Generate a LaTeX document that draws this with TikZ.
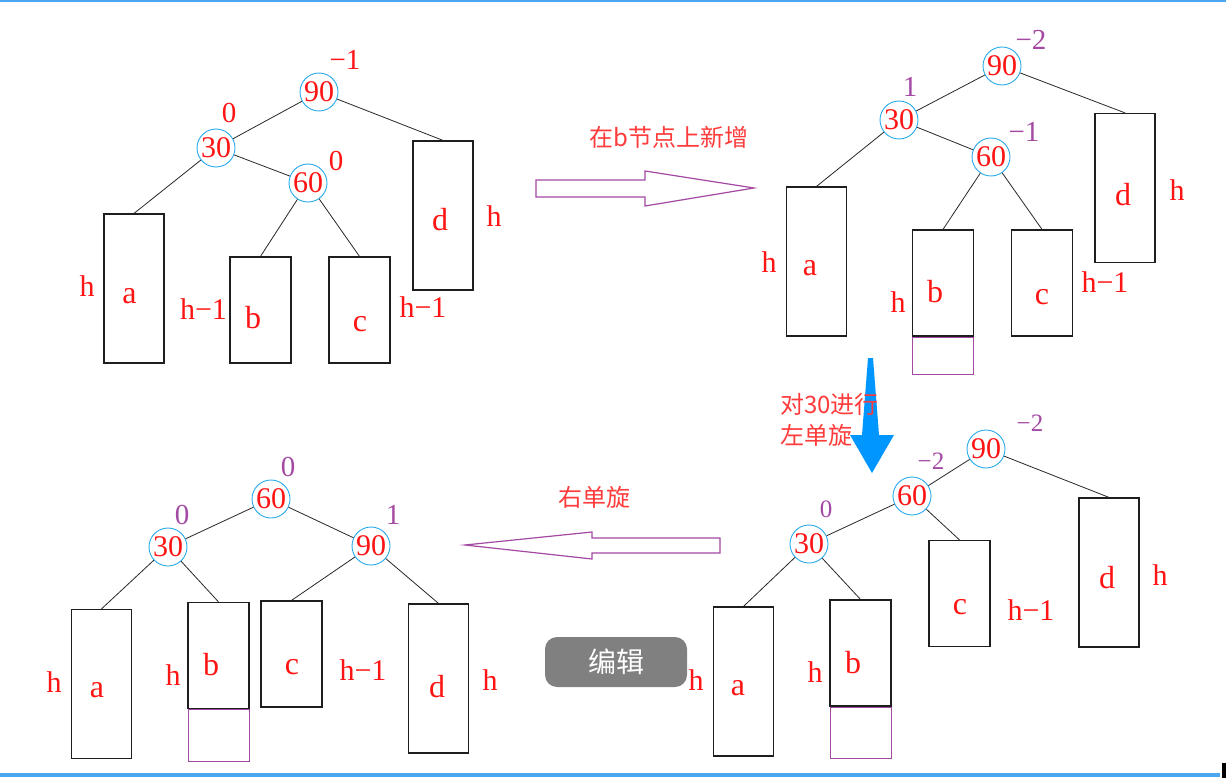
\documentclass[tikz,border=0pt]{standalone}
\usepackage{fontspec}
\setmainfont{Liberation Serif}
\newfontfamily\cjk{Noto Sans CJK SC}
\usepackage{xcolor}
\definecolor{nred}{RGB}{255,20,20}
\definecolor{cnred}{RGB}{255,60,60}
\definecolor{purp}{RGB}{163,73,164}
\definecolor{keyblue}{RGB}{40,170,235}
\definecolor{bigblue}{RGB}{0,150,255}
\definecolor{framblue}{RGB}{77,166,240}
\definecolor{linegray}{RGB}{40,40,40}
\definecolor{boxgray}{RGB}{30,30,30}
\definecolor{btngray}{RGB}{128,128,128}
\tikzset{
  keynode/.style={circle, draw=keyblue, line width=0.9pt,
    minimum size=38pt, inner sep=0pt,
    text=nred, font=\fontsize{30}{30}\selectfont},
  subtree/.style={rectangle, draw=boxgray, line width=1.2pt, inner sep=0pt},
  tall/.style={subtree, minimum width=60pt, minimum height=149pt},
  short/.style={subtree, minimum width=61pt, minimum height=106pt},
  newleaf/.style={rectangle, draw=purp, line width=1pt, inner sep=0pt,
    minimum width=61pt},
  lett/.style={text=nred, font=\fontsize{32}{32}\selectfont, inner sep=0pt},
  hgt/.style={text=nred, font=\fontsize{30}{30}\selectfont, inner sep=0pt},
  bal/.style={text=nred, font=\fontsize{29}{29}\selectfont, inner sep=0pt},
  balp/.style={bal, text=purp},
  balps/.style={balp, font=\fontsize{25}{25}\selectfont},
  lnk/.style={draw=linegray, line width=0.8pt},
  note/.style={text=cnred, font=\cjk\fontsize{24}{31}\selectfont, inner sep=0pt},
  hollow/.style={draw=purp, line width=1.2pt, fill=white},
  button/.style={rectangle, rounded corners=12pt, fill=btngray,
    minimum width=142pt, minimum height=50pt,
    text=white, font=\cjk\fontsize{28}{28}\selectfont}
}

\begin{document}
\begin{tikzpicture}[x=1pt, y=-1pt]
\fill[white] (0,0) rectangle (1226,778);
\useasboundingbox (0,0) rectangle (1226,778);

%% ── frame ──────────────────────────────────────────────────────────
\draw[framblue, line width=2pt] (0,1) -- (1226,1);
\draw[framblue, line width=4pt] (0,774.5) -- (1220,774.5);
\fill[black] (1222,763) rectangle (1226,778);

%% ── PANEL 1: before insert (top left) ─────────────────────────────
\node[keynode] (n90a) at (319,92)  {90};
\node[keynode] (n30a) at (216,148) {30};
\node[keynode] (n60a) at (308,183) {60};
\node[bal] (f90a) at (345,60)  {−1};
\node[bal] (f30a) at (229,113) {0};
\node[bal] (f60a) at (336,161) {0};

\node[tall]  (a1) at (134,288.5) {};
\node[short] (b1) at (260.5,310) {};
\node[short] (c1) at (359.5,310) {};
\node[tall]  (d1) at (443,215.5) {};
\node[lett] (ta1) at (129.5,296) {a};
\node[lett] (tb1) at (253,318)   {b};
\node[lett] (tc1) at (360,324)   {c};
\node[lett] (td1) at (440,220)   {d};
\node[hgt] (ha1) at (87,286)    {h};
\node[hgt] (hb1) at (203.5,309) {h−1};
\node[hgt] (hc1) at (423,307.5) {h−1};
\node[hgt] (hd1) at (494,216)   {h};

\draw[lnk] (n90a) -- (n30a);
\draw[lnk] (n90a) -- (d1.north);
\draw[lnk] (n30a) -- (a1.north);
\draw[lnk] (n30a) -- (n60a);
\draw[lnk] (n60a) -- (b1.north);
\draw[lnk] (n60a) -- (c1.north);

%% ── arrow: insert ──────────────────────────────────────────────────
\draw[hollow] (536,180) -- (645,180) -- (645,171) -- (754,188)
  -- (645,206) -- (645,197) -- (536,197) -- cycle;
\node[note] (ins) at (669,137) {在b节点上新增};

%% ── PANEL 2: after insert (top right) ─────────────────────────────
\node[keynode] (n90b) at (1002,66) {90};
\node[keynode] (n30b) at (899,120) {30};
\node[keynode] (n60b) at (991,157) {60};
\node[balp] (f90b) at (1031,40)  {−2};
\node[balp] (f30b) at (910,87)   {1};
\node[balp] (f60b) at (1024,132) {−1};

\node[tall]  (a2) at (816.5,261.5) {};
\node[short] (b2) at (943,283)     {};
\node[newleaf, minimum height=37pt] (nb2) at (943,355.5) {};
\node[short] (c2) at (1042,283)    {};
\node[tall]  (d2) at (1125,188)    {};
\node[lett] (ta2) at (810,268)  {a};
\node[lett] (tb2) at (935,292)  {b};
\node[lett] (tc2) at (1042,297) {c};
\node[lett] (td2) at (1123,195) {d};
\node[hgt] (ha2) at (769,262)  {h};
\node[hgt] (hb2) at (898,302)  {h};
\node[hgt] (hc2) at (1105,282) {h−1};
\node[hgt] (hd2) at (1177,190) {h};

\draw[lnk] (n90b) -- (n30b);
\draw[lnk] (n90b) -- (d2.north);
\draw[lnk] (n30b) -- (a2.north);
\draw[lnk] (n30b) -- (n60b);
\draw[lnk] (n60b) -- (b2.north);
\draw[lnk] (n60b) -- (c2.north);

%% ── arrow: left rotation on 30 ─────────────────────────────────────
\fill[bigblue] (868,358) -- (873,358) -- (879,435) -- (894,435)
  -- (872,473) -- (850,435) -- (862,435) -- cycle;
\node[note, anchor=west, align=left] (rotl) at (780,420) {对30进行\\左单旋};

%% ── PANEL 4: after left rotation (bottom right) ───────────────────
\node[keynode] (n90d) at (986,449) {90};
\node[keynode] (n60d) at (912,496) {60};
\node[keynode] (n30d) at (809,544) {30};
\node[balps] (f90d) at (1030,423) {−2};
\node[balps] (f60d) at (931,461)  {−2};
\node[balps] (f30d) at (826,509)  {0};

\node[tall]  (a4) at (743.5,681.5) {};
\node[short] (b4) at (860.5,653)   {};
\node[newleaf, minimum height=51pt] (nb4) at (860.5,732.5) {};
\node[short] (c4) at (959.5,593.5) {};
\node[tall]  (d4) at (1109,572.5)  {};
\node[lett] (ta4) at (738,688)  {a};
\node[lett] (tb4) at (853,663)  {b};
\node[lett] (tc4) at (960,607)  {c};
\node[lett] (td4) at (1107,578) {d};
\node[hgt] (ha4) at (696,680)  {h};
\node[hgt] (hb4) at (815,672)  {h};
\node[hgt] (hc4) at (1031,610) {h−1};
\node[hgt] (hd4) at (1160,575) {h};

\draw[lnk] (n90d) -- (n60d);
\draw[lnk] (n90d) -- (d4.north);
\draw[lnk] (n60d) -- (n30d);
\draw[lnk] (n60d) -- (c4.north);
\draw[lnk] (n30d) -- (a4.north);
\draw[lnk] (n30d) -- (b4.north);

%% ── arrow: right rotation ──────────────────────────────────────────
\draw[hollow] (720,538) -- (592,538) -- (592,532) -- (465,545)
  -- (592,559) -- (592,553) -- (720,553) -- cycle;
\node[note] (rotr) at (594,497) {右单旋};
\node[button] (edit) at (616,662) {编辑};

%% ── PANEL 3: balanced (bottom left) ───────────────────────────────
\node[keynode] (n60c) at (271,499) {60};
\node[keynode] (n30c) at (168,547) {30};
\node[keynode] (n90c) at (371,546) {90};
\node[balp] (f60c) at (288,467) {0};
\node[balp] (f30c) at (182,515) {0};
\node[balp] (f90c) at (393,515) {1};

\node[tall]  (a3) at (101.5,684)   {};
\node[short] (b3) at (218.5,655.5) {};
\node[newleaf, minimum height=52pt] (nb3) at (218.5,735) {};
\node[short] (c3) at (291.5,654)   {};
\node[tall]  (d3) at (438.5,678.5) {};
\node[lett] (ta3) at (97,690)  {a};
\node[lett] (tb3) at (211,665) {b};
\node[lett] (tc3) at (292,667) {c};
\node[lett] (td3) at (437,687) {d};
\node[hgt] (ha3) at (54,682)  {h};
\node[hgt] (hb3) at (173,675) {h};
\node[hgt] (hc3) at (363,670) {h−1};
\node[hgt] (hd3) at (490,680) {h};

\draw[lnk] (n60c) -- (n30c);
\draw[lnk] (n60c) -- (n90c);
\draw[lnk] (n30c) -- (a3.north);
\draw[lnk] (n30c) -- (b3.north);
\draw[lnk] (n90c) -- (c3.north);
\draw[lnk] (n90c) -- (d3.north);

\end{tikzpicture}
\end{document}
